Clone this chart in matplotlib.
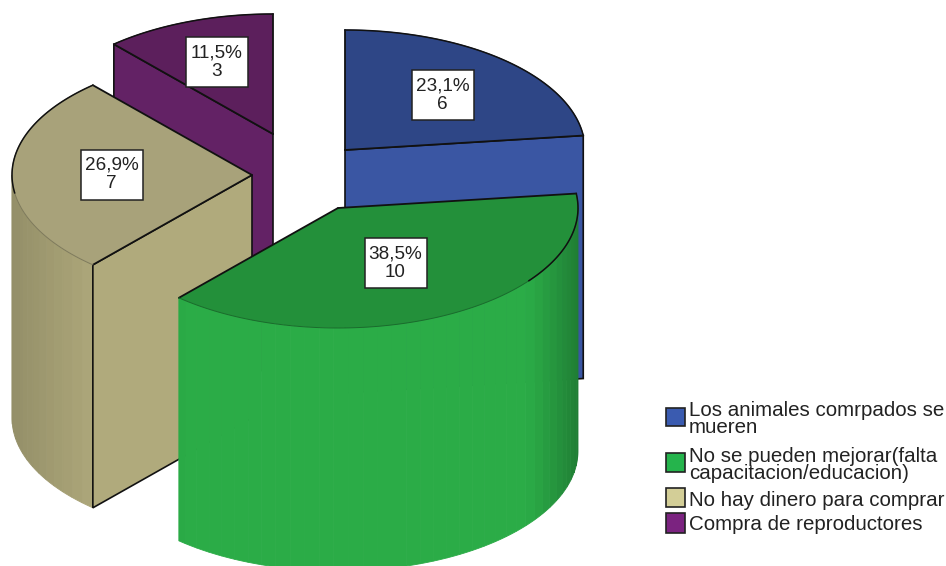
#!/usr/bin/env python3
"""Exploded 3D pie: slices are built by hand from the counts, painted back to front."""

import numpy as np
import matplotlib
matplotlib.use("Agg")
import matplotlib.pyplot as plt
from matplotlib.patches import Polygon, Rectangle

plt.rcParams["font.family"] = ["Liberation Sans", "DejaVu Sans"]

# data
categories = [
    "Los animales comrpados se\nmueren",
    "No se pueden mejorar(falta\ncapacitacion/educacion)",
    "No hay dinero para comprar",
    "Compra de reproductores",
]
counts = [6, 10, 7, 3]

# styles, same order as the data
top_colors = ["#2E4686", "#23903A", "#A8A27A", "#5C1F5C"]
wall_colors = ["#3A56A3", "#2BAC47", "#B0AA7C", "#632265"]
legend_colors = ["#3A5BB0", "#25B44C", "#D3CE97", "#7B2380"]
centers = [(345, 150), (338, 208), (252, 175), (273, 134)]
label_centers = [(442.5, 95), (395.5, 263), (111.5, 174.5), (217, 62)]
legend_y = [(408, 426), (453, 472), (488, 507), (513, 533)]
legend_text_y = [419, 465, 500, 525]
paint_order = [3, 0, 2, 1]
# which cut face of each slice looks at the viewer: 1 = end, 0 = start, None = neither
face_side = [1, None, 0, 0]
# rim stays black while cos(t) is above this
rim_limit = [-1.1, -0.62, -0.15, -1.1]

RX, RY = 240, 120
DEPTH = 243
BOX_W, BOX_H = 62, 50
LABEL_FONT = 13.6
LEGEND_FONT = 14.8


def rim(center, t):
    # t is clockwise from 12 o'clock, radians
    return center[0] + RX * np.sin(t), center[1] - RY * np.cos(t)


def shade(color, factor):
    rgb = np.array(matplotlib.colors.to_rgb(color))
    return tuple(np.clip(rgb * factor, 0, 1))


def wall_factor(t):
    # curved side goes darker towards the silhouette
    s = abs(np.sin(t))
    if np.sin(t) > 0:
        return 1 - 0.27 * max(0, (s - 0.78) / 0.22) ** 1.2
    return 1 - 0.16 * max(0, (s - 0.62) / 0.38)


def draw_slice(ax, center, t0, t1, top, wall, side, limit, z):
    # curved outer wall, only the part facing the viewer
    a = max(t0, np.pi / 2)
    b = min(t1, 3 * np.pi / 2)
    if b > a:
        edges = np.append(np.arange(a, b, np.radians(3.5)), b)
        for e0, e1 in zip(edges[:-1], edges[1:]):
            ts = np.linspace(e0, e1, 5)
            x, y = rim(center, ts)
            pts = list(zip(x, y)) + list(zip(x[::-1], y[::-1] + DEPTH))
            col = shade(wall, wall_factor((e0 + e1) / 2))
            ax.add_patch(Polygon(pts, closed=True, fc=col, ec=col, lw=0.6, zorder=z))

    # flat cut face
    if side is not None:
        ex, ey = rim(center, (t0, t1)[side])
        pts = [center, (ex, ey), (ex, ey + DEPTH), (center[0], center[1] + DEPTH)]
        ax.add_patch(Polygon(pts, closed=True, fc=wall, ec="#111111", lw=1.2, zorder=z + 0.1))

    # top surface
    ts = np.linspace(t0, t1, 120)
    x, y = rim(center, ts)
    pts = [center] + list(zip(x, y))
    ax.add_patch(Polygon(pts, closed=True, fc=top, ec="none", zorder=z + 0.2))

    # radial edges in black, rim dark only on the back part
    for t in (t0, t1):
        ex, ey = rim(center, t)
        ax.plot([center[0], ex], [center[1], ey], color="#111111", lw=1.3, zorder=z + 0.3,
                solid_capstyle="round")
    ax.plot(x, y, color=shade(top, 0.75), lw=0.7, zorder=z + 0.3)
    back = np.cos(ts) > limit
    ax.plot(np.where(back, x, np.nan), np.where(back, y, np.nan), color="#111111", lw=1.1, zorder=z + 0.35)


fig = plt.figure(figsize=(9.46, 5.66), dpi=100, facecolor="white")
ax = fig.add_axes([0, 0, 1, 1])
ax.set_xlim(0, 946)
ax.set_ylim(566, 0)
ax.axis("off")

total = sum(counts)
bounds = np.concatenate([[0], np.cumsum(counts)]) / total * 2 * np.pi

for n, i in enumerate(paint_order):
    draw_slice(ax, centers[i], bounds[i], bounds[i + 1], top_colors[i], wall_colors[i],
               face_side[i], rim_limit[i], 2 + n)

# value labels
for i, (cx, cy) in enumerate(label_centers):
    ax.add_patch(Rectangle((cx - BOX_W / 2, cy - BOX_H / 2), BOX_W, BOX_H, fc="white",
                           ec="#222222", lw=1.1, zorder=20))
    pct = f"{100 * counts[i] / total:.1f}%".replace(".", ",")
    ax.text(cx, cy - 9, pct, ha="center", va="center", fontsize=LABEL_FONT, color="#222222", zorder=21)
    ax.text(cx, cy + 9.5, str(counts[i]), ha="center", va="center", fontsize=LABEL_FONT, color="#222222", zorder=21)

# legend
for i, label in enumerate(categories):
    y0, y1 = legend_y[i]
    ax.add_patch(Rectangle((666, y0), 19, y1 - y0, fc=legend_colors[i], ec="#222222", lw=1.2, zorder=20))
    ax.text(689, legend_text_y[i], label, ha="left", va="center", fontsize=LEGEND_FONT,
            linespacing=0.84, color="#222222", zorder=21)

fig.savefig("out.png", dpi=100, facecolor="white")
plt.close(fig)
